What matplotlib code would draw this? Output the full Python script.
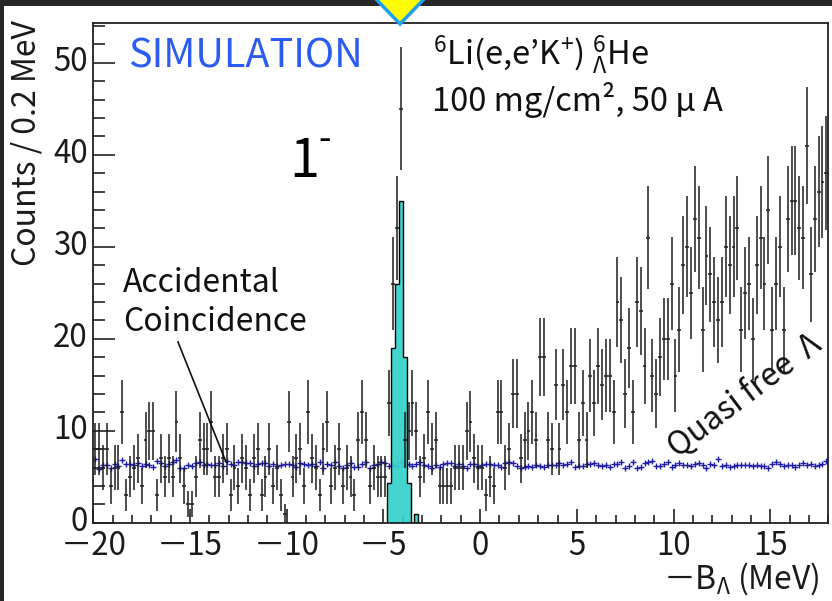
import numpy as np
import matplotlib
matplotlib.use("Agg")
import matplotlib.pyplot as plt
from matplotlib.patches import Polygon, Rectangle
from matplotlib.lines import Line2D
from matplotlib.transforms import ScaledTranslation
from matplotlib.ticker import MultipleLocator, FixedLocator, FixedFormatter

plt.rcParams['font.family'] = ['Noto Sans CJK JP', 'DejaVu Sans']
plt.rcParams['mathtext.fontset'] = 'custom'
plt.rcParams['mathtext.rm'] = 'Noto Sans CJK JP'
plt.rcParams['mathtext.it'] = 'Noto Sans CJK JP'
plt.rcParams['mathtext.bf'] = 'Noto Sans CJK JP'
plt.rcParams['mathtext.fallback'] = 'stixsans'

# ---------------- data ----------------
bin_start = -20.0
bin_width = 0.2

counts = [
    8, 8, 6, 8, 4, 6, 6, 12, 3, 5,
    6, 7, 4, 9, 10, 10, 3, 7, 5, 7,
    5, 11, 7, 4, 2, 2, 5, 9, 8, 8,
    11, 5, 5, 7, 8, 3, 6, 4, 7, 6,
    3, 7, 8, 3, 5, 8, 4, 6, 3, 1,
    11, 5, 7, 8, 4, 12, 7, 6, 3, 8,
    11, 4, 6, 8, 4, 6, 5, 3, 9, 12,
    9, 4, 6, 5, 5, 5, 13, 26, 32, 45,
    9, 10, 13, 10, 5, 7, 12, 8, 9, 4,
    4, 4, 4, 6, 6, 6, 10, 11, 7, 6,
    6, 3, 5, 4, 12, 12, 6, 8, 14, 14,
    7, 9, 10, 12, 9, 18, 18, 9, 8, 15,
    8, 15, 12, 17, 17, 9, 13, 9, 16, 13,
    17, 15, 16, 16, 12, 24, 22, 14, 19, 12,
    24, 23, 17, 31, 16, 14, 18, 20, 20, 26,
    16, 21, 28, 30, 25, 33, 31, 21, 29, 27,
    24, 22, 24, 30, 28, 30, 32, 21, 25, 26,
    20, 28, 31, 26, 34, 21, 26, 30, 21, 33,
    35, 35, 32, 31, 41, 27, 33, 36, 37, 38,
]

accidental = [
    6.9, 5.8, 6.3, 6.3, 5.9, 6.4, 6.2, 6.8, 6.4, 6.4,
    6.3, 6.5, 6.2, 6.4, 6.3, 6.1, 6.7, 6.5, 6.2, 6.4,
    6.6, 6.8, 6.0, 6.0, 6.3, 6.2, 6.5, 6.6, 6.3, 6.4,
    6.3, 6.3, 6.5, 6.2, 6.7, 6.4, 6.3, 6.6, 6.6, 6.5,
    6.5, 6.2, 6.4, 6.5, 6.5, 6.2, 6.4, 6.2, 6.3, 6.4,
    6.4, 6.3, 6.1, 6.5, 6.4, 6.3, 6.4, 6.2, 6.6, 6.0,
    6.4, 6.3, 6.6, 6.2, 6.0, 6.3, 6.5, 6.1, 6.1, 6.4,
    6.6, 6.0, 6.3, 6.4, 6.6, 6.5, 6.2, 6.3, 6.2, 6.6,
    6.3, 6.4, 6.2, 6.4, 6.6, 6.3, 6.2, 6.0, 6.3, 6.1,
    6.4, 6.5, 6.5, 6.2, 6.4, 6.2, 6.0, 6.4, 6.4, 6.2,
    6.3, 6.4, 6.4, 6.3, 6.3, 6.1, 6.5, 6.6, 6.5, 6.2,
    6.0, 6.1, 6.2, 6.1, 6.3, 6.2, 6.1, 6.3, 6.3, 6.3,
    6.5, 6.3, 6.4, 6.6, 6.1, 6.2, 6.2, 6.4, 6.4, 6.5,
    6.3, 6.2, 6.3, 6.1, 6.4, 6.4, 6.6, 5.9, 6.2, 6.6,
    6.0, 6.1, 6.5, 6.6, 6.7, 6.2, 6.2, 6.4, 6.6, 6.1,
    6.3, 6.5, 6.3, 6.3, 6.2, 6.4, 6.5, 6.3, 6.0, 6.4,
    6.3, 6.9, 6.2, 6.3, 6.1, 6.2, 6.3, 6.3, 6.3, 6.3,
    6.2, 6.3, 6.2, 6.2, 5.9, 6.4, 6.6, 6.4, 6.2, 6.3,
    6.3, 6.1, 6.3, 6.5, 6.3, 6.4, 6.2, 6.3, 6.4, 6.7,
]

peak_start = -4.8
peak_counts = [4.3, 19, 26, 35, 18, 4.3, 0, 1]

xticks = [-20, -15, -10, -5, 0, 5, 10, 15]
xtick_labels = ["\uff0d20", "\uff0d15", "\uff0d10", "\uff0d5", "0", "5", "10", "15"]
yticks = [0, 10, 20, 30, 40, 50]
ytick_labels = ["0", "10", "20", "30", "40", "50"]

assert len(counts) == 190 and len(accidental) == 190

# ---------------- figure ----------------
W, H = 832, 601
fig = plt.figure(figsize=(W / 100, H / 100), dpi=100)
fig.patch.set_facecolor('white')

def fx(px):
    return px / W

def fy(py):
    return 1 - py / H

# screenshot dark border
fig.add_artist(Rectangle((0, fy(6)), 1, 6 / H, transform=fig.transFigure,
                         facecolor='#262626', edgecolor='none', zorder=0))
fig.add_artist(Rectangle((0, 0), fx(4), 1, transform=fig.transFigure,
                         facecolor='#262626', edgecolor='none', zorder=0))

ax = fig.add_axes([fx(93.3), fy(522.7), fx(828.3) - fx(93.3), fy(22.7) - fy(522.7)])
ax.set_facecolor('white')

counts_a = np.array(counts, dtype=float)
edges = bin_start + bin_width * np.arange(len(counts) + 1)
centers = edges[:-1] + bin_width / 2
pedges = peak_start + bin_width * np.arange(len(peak_counts) + 1)

ax.plot(centers, accidental, '+', color='#1c1ca8', ms=4.5, mew=1.0, zorder=2)
ax.stairs(peak_counts, pedges, fill=True, color='#33d3cb', alpha=0.92, zorder=2.5)
ax.stairs(peak_counts, pedges, color='black', lw=1.0, zorder=2.6)
ax.errorbar(centers, counts_a, xerr=bin_width / 2, yerr=np.sqrt(counts_a),
            fmt='none', ecolor='#1e1e1e', elinewidth=1.1, capsize=0, zorder=3)

ax.set_xlim(-20, 18)
ax.set_ylim(0, 54.35)
ax.xaxis.set_major_locator(FixedLocator(xticks))
ax.xaxis.set_major_formatter(FixedFormatter(xtick_labels))
ax.yaxis.set_major_locator(FixedLocator(yticks))
ax.yaxis.set_major_formatter(FixedFormatter(ytick_labels))
ax.xaxis.set_minor_locator(MultipleLocator(1))
ax.yaxis.set_minor_locator(MultipleLocator(2))
ax.tick_params(which='both', direction='in', top=False, right=False,
               color='#222222', width=1.2, labelsize=22.5, labelcolor='#1a1a1a')
ax.tick_params(axis='x', which='major', length=10.3, pad=5)
ax.tick_params(axis='x', which='minor', length=5.5)
ax.tick_params(axis='y', which='major', length=15.6, pad=4)
ax.tick_params(axis='y', which='minor', length=8.6)
for s in ax.spines.values():
    s.set_linewidth(1.3)
    s.set_color('#222222')

# y tick labels sit slightly above their ticks in the reference
shift_up = ScaledTranslation(0, 4 / 100, fig.dpi_scale_trans)
for lab in ax.get_yticklabels():
    lab.set_transform(lab.get_transform() + shift_up)

# ---------------- texts ----------------
fig.text(fx(27), fy(20), "Counts / 0.2 MeV", rotation=90, ha='center', va='top',
         fontsize=23, color='#1a1a1a')
fig.text(fx(820), fy(589), "\uff0dB$_{\\Lambda}$ (MeV)", ha='right', va='baseline',
         fontsize=23, color='#1a1a1a')

fig.text(fx(128), fy(68), "SIMULATION", color='#2a5cf5', fontsize=28.5,
         ha='left', va='baseline')
fig.text(fx(289), fy(177), "1", color='black', fontsize=39, ha='left', va='baseline')
fig.text(fx(318), fy(150), "-", color='black', fontsize=26, ha='left', va='baseline')

fig.text(fx(433), fy(65), r"$^{6}$Li(e,e’K$^{+}$) $^{6}_{\Lambda}$He", color='#111111',
         fontsize=23.5, ha='left', va='baseline')
fig.text(fx(432), fy(111), "100 mg/cm², 50 μ A", color='#111111',
         fontsize=23.5, ha='left', va='baseline')

fig.text(fx(123), fy(292), "Accidental", color='#111111', fontsize=23,
         ha='left', va='baseline')
fig.text(fx(123), fy(331), "Coincidence", color='#111111', fontsize=23,
         ha='left', va='baseline')
fig.add_artist(Line2D([fx(178), fx(226)], [fy(342), fy(462)], transform=fig.transFigure,
                      color='#111111', lw=1.2))

fig.text(fx(677), fy(458), "Quasi free  Λ", color='#111111', fontsize=23,
         rotation=37, rotation_mode='anchor', ha='left', va='baseline')

# marker triangle at top
tri = Polygon([(fx(373), fy(-4)), (fx(427), fy(-4)), (fx(400), fy(24))], closed=True,
              transform=fig.transFigure, facecolor='#ffff00', edgecolor='#1ea0f0',
              lw=2.5, zorder=10, clip_on=False)
fig.add_artist(tri)

fig.savefig("out.png", dpi=100)
